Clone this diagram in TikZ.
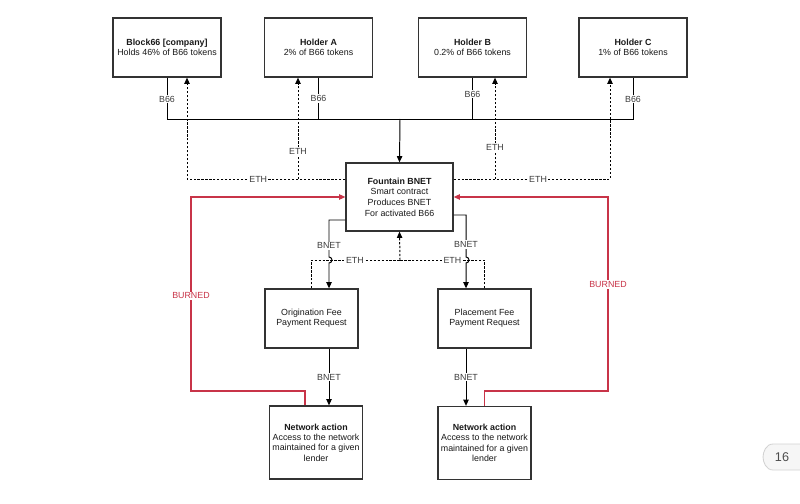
\documentclass[tikz,border=0pt]{standalone}
\usepackage{fontspec}
\setmainfont{Liberation Sans}
\usetikzlibrary{arrows.meta,positioning,calc}

\definecolor{burnred}{RGB}{200,52,72}
\definecolor{lblgray}{RGB}{60,60,60}
\newcommand{\pu}{0.025cm} % one pixel of the grid

\begin{document}
\begin{tikzpicture}[
    x = 0.025cm, y = -0.025cm, % pixel grid, y downwards
    > = {Triangle[length=4.4pt,width=3.8pt]}, % arrow head style
    line width = 0.7pt, % line style
    font = \fontsize{6.3}{7.4}\selectfont
    ]

    \tikzset{
    box/.style = {draw = black!80, line width = 0.9pt, fill = white,
        align = center, inner sep = 1pt, text = black!90},
    topbox/.style = {box, minimum width = 108*\pu, minimum height = 59*\pu},
    feebox/.style = {box, minimum width = 93*\pu, minimum height = 59*\pu},
    actbox/.style = {box, minimum width = 93*\pu, minimum height = 73*\pu},
    lbl/.style = {fill = white, inner sep = 0.8pt, text = lblgray},
    eth/.style = {dash pattern = on 1.6pt off 1.2pt},
    burn/.style = {draw = burnred, line width = 0.75pt}
    }
    \useasboundingbox (0,0) rectangle (800,504);

    % boxes
    \node[topbox] (block66) at (167,47.5) {\textbf{Block66 [company]}\\Holds 46\% of B66 tokens};
    \node[topbox] (holderA) at (318.5,47.5) {\textbf{Holder A}\\2\% of B66 tokens};
    \node[topbox] (holderB) at (472.5,47.5) {\textbf{Holder B}\\0.2\% of B66 tokens};
    \node[topbox] (holderC) at (633,47.5) {\textbf{Holder C}\\1\% of B66 tokens};
    \node[box, minimum width = 107*\pu, minimum height = 68*\pu, font = \fontsize{6.3}{7.6}\selectfont]
        (fountain) at (399.5,197) {\textbf{Fountain BNET}\\Smart contract\\Produces BNET\\For activated B66};
    \node[feebox] (orig) at (311.5,318.5) {Origination Fee\\Payment Request};
    \node[feebox] (place) at (484.5,318.5) {Placement Fee\\Payment Request};
    \node[actbox] (net1) at (316,442.5) {\textbf{Network action}\\Access to the network\\maintained for a given\\lender};
    \node[actbox] (net2) at (484.5,443) {\textbf{Network action}\\Access to the network\\maintained for a given\\lender};

    % helper points
    \coordinate (bus) at (400,119);
    \coordinate (ethL) at (187,179);
    \coordinate (ethA) at (298,179);
    \coordinate (ethB) at (495,179);
    \coordinate (ethR) at (610,179);
    \coordinate (ethM) at (400,260);
    \coordinate (bnL) at (329,220);
    \coordinate (bnR) at (466,215);
    \coordinate (brnL) at (191,391);
    \coordinate (brnR) at (608,391);
    \coordinate (b1) at (305,391);

    % B66 to the fountain
    \draw (block66.south) -- node[lbl,pos=.52]{B66} (block66.south |- bus)
        -- (holderC.south |- bus) -- node[lbl,pos=.48]{B66} (holderC.south);
    \draw (holderA.south) -- node[lbl,pos=.5]{B66} (holderA.south |- bus);
    \draw (holderB.south) -- node[lbl,pos=.4]{B66} (holderB.south |- bus);
    \draw[->] (bus) -- (fountain.north);

    % ETH back to the holders
    \draw[eth,->] (fountain.west |- ethL) -- node[lbl,pos=.55]{ETH} (ethL) -- (block66.south -| ethL);
    \draw[eth,->] (ethA) -- node[lbl,pos=.27]{ETH} (holderA.south -| ethA);
    \draw[eth,->] (fountain.east |- ethR) -- node[lbl,pos=.54]{ETH} (ethR) -- (holderC.south -| ethR);
    \draw[eth,->] (ethB) -- node[lbl,pos=.31]{ETH} (holderB.south -| ethB);

    % ETH from the fee requests
    \draw[eth] (orig.north) -- (orig.north |- ethM) -- node[lbl,pos=.49]{ETH} (ethM);
    \draw[eth] (place.north) -- (place.north |- ethM) -- node[lbl,pos=.38]{ETH} (ethM);
    \draw[eth,->] (ethM) -- (fountain.south);

    % BNET down, with line jumps
    \draw[->] (fountain.west |- bnL) -- (bnL) -- node[lbl,pos=.7]{BNET} ($(bnL |- ethM)+(0,-3)$)
        arc[start angle=90, end angle=-90, radius=0.075cm] -- (orig.north -| bnL);
    \draw[->] (fountain.east |- bnR) -- (bnR) -- node[lbl,pos=.7]{BNET} ($(bnR |- ethM)+(0,-3)$)
        arc[start angle=90, end angle=-90, radius=0.075cm] -- (place.north -| bnR);
    \draw[->] (orig.south -| bnL) -- node[lbl]{BNET} (net1.north -| bnL);
    \draw[->] (place.south -| bnR) -- node[lbl]{BNET} (net2.north -| bnR);

    % burned back to the fountain
    \draw[burn,->] (net1.north -| b1) -- (b1) -- (brnL)
        -- node[lbl,text=burnred,pos=.49]{BURNED} (brnL |- fountain.west) -- (fountain.west);
    \draw[burn,->] (net2.north) -- (net2.north |- brnR) -- (brnR)
        -- node[lbl,text=burnred,pos=.55]{BURNED} (brnR |- fountain.east) -- (fountain.east);

    % page badge
    \draw[fill=gray!7, draw=gray!35, line width=0.6pt] (801,444) -- (773,444)
        .. controls (766,444) and (763,452) .. (763,457)
        .. controls (763,462) and (766,470) .. (773,470) -- (801,470);
    \node[text=gray!60!black, font=\fontsize{9}{10}\selectfont] (pagenum) at (782,457.5) {16};
\end{tikzpicture}
\end{document}
